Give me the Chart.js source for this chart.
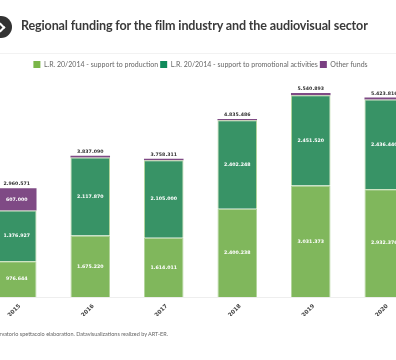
<!DOCTYPE html>
<html>
<head>
<meta charset="utf-8">
<script src="https://cdn.jsdelivr.net/npm/chart.js@4/dist/chart.umd.min.js"></script>
<style>
  html, body { margin: 0; padding: 0; background: #fff; width: 396px; height: 360px; overflow: hidden; }
  #page { position: relative; width: 396px; height: 360px; overflow: hidden; }
  #badge { position: absolute; left: -10px; top: 16px; width: 22px; height: 22px; border-radius: 50%; background: #333; }
  #badge::after { content: ""; position: absolute; left: 7px; top: 8px; width: 5px; height: 5px; border-top: 2px solid #fff; border-right: 2px solid #fff; transform: rotate(45deg); }
  #title { position: absolute; left: 21px; top: 18px; font: 700 12.55px Lato, sans-serif; letter-spacing: -0.14px; color: #3a3a3a; white-space: nowrap; }
  #rule { position: absolute; left: 0; right: 0; top: 53px; height: 1px; background: #f2f2f2; }
  #source { position: absolute; right: 228px; top: 331px; font: 400 5.5px Lato, sans-serif; color: #666; white-space: nowrap; }
  #chartWrap { position: absolute; left: -46px; top: 0; width: 488px; height: 360px; }
</style>
</head>
<body>
<div id="page">
  <div id="chartWrap"><canvas id="fundingChart"></canvas></div>
  <div id="badge"></div>
  <div id="title">Regional funding for the film industry and the audiovisual sector</div>
  <div id="rule"></div>
  <div id="source">Source: Osservatorio spettacolo elaboration. Datavisualizations realized by ART-ER.</div>
</div>
<script>
const years = ["2015", "2016", "2017", "2018", "2019", "2020"];
const production = [976644, 1675220, 1614011, 2400238, 3031373, 2932376];
const promotion = [1376927, 2117870, 2105000, 2402248, 2451520, 2436440];
const otherFunds = [607000, 44000, 39300, 33000, 58000, 55000];
const totals = [2960571, 3837090, 3758311, 4835486, 5540893, 5423816];

const formatValue = (v) => String(v).replace(/\B(?=(\d{3})+(?!\d))/g, ".");

// no datalabels plugin available offline, so draw the labels by hand
const barLabels = {
  id: "barLabels",
  afterDatasetsDraw(chart) {
    const { ctx } = chart;
    ctx.save();
    ctx.textAlign = "center";
    ctx.textBaseline = "middle";
    ctx.font = 'bold 4.7px "DejaVu Sans"';
    chart.data.datasets.forEach((ds, i) => {
      chart.getDatasetMeta(i).data.forEach((bar, j) => {
        if (ds.data[j] < 200000) return;
        ctx.fillStyle = "#fff";
        ctx.fillText(formatValue(ds.data[j]), bar.x, (bar.y + bar.base) / 2);
      });
    });
    const topMeta = chart.getDatasetMeta(2);
    ctx.fillStyle = "#333";
    totals.forEach((t, j) => {
      const bar = topMeta.data[j];
      ctx.fillText(formatValue(t), bar.x, bar.y - 4);
    });
    ctx.restore();
  },
};

new Chart(document.getElementById("fundingChart"), {
  type: "bar",
  plugins: [barLabels],
  data: {
    labels: years,
    datasets: [
      { label: "L.R. 20/2014 - support to production", data: production, backgroundColor: "#80b75c", borderColor: "#b5d69e", borderWidth: 1 },
      { label: "L.R. 20/2014 - support to promotional activities", data: promotion, backgroundColor: "#389366", borderColor: "#b5d69e", borderWidth: 1 },
      { label: "Other funds", data: otherFunds, backgroundColor: "#7f4a85", borderWidth: 0 },
    ].map((d) => ({ ...d, barPercentage: 0.538, categoryPercentage: 1 })),
  },
  options: {
    responsive: true,
    maintainAspectRatio: false,
    animation: false,
    layout: { padding: { left: 26, right: 21, top: 59, bottom: 44 } },
    scales: {
      x: {
        stacked: true,
        grid: { display: false },
        border: { color: "#eeeeee" },
        ticks: {
          color: "#444",
          font: { family: "DejaVu Sans", size: 5.6, weight: "bold" },
          minRotation: 45,
          maxRotation: 45,
          labelOffset: 3,
          padding: -2.5,
        },
      },
      y: { stacked: true, display: false, min: 0, max: 5950000 },
    },
    plugins: {
      tooltip: { enabled: false },
      legend: {
        position: "top",
        labels: {
          color: "#666",
          font: { family: "Lato", size: 7 },
          boxWidth: 7,
          boxHeight: 7,
          padding: 2,
          generateLabels: () => [
            { text: "L.R. 20/2014 - support to production", fillStyle: "#7ab648", strokeStyle: "#7ab648", lineWidth: 0, fontColor: "#666" },
            { text: "L.R. 20/2014 - support to promotional activities", fillStyle: "#0f8a5a", strokeStyle: "#0f8a5a", lineWidth: 0, fontColor: "#666" },
            { text: "Other funds", fillStyle: "#7a3f82", strokeStyle: "#7a3f82", lineWidth: 0, fontColor: "#666" },
          ],
        },
      },
    },
  },
});
</script>
</body>
</html>
